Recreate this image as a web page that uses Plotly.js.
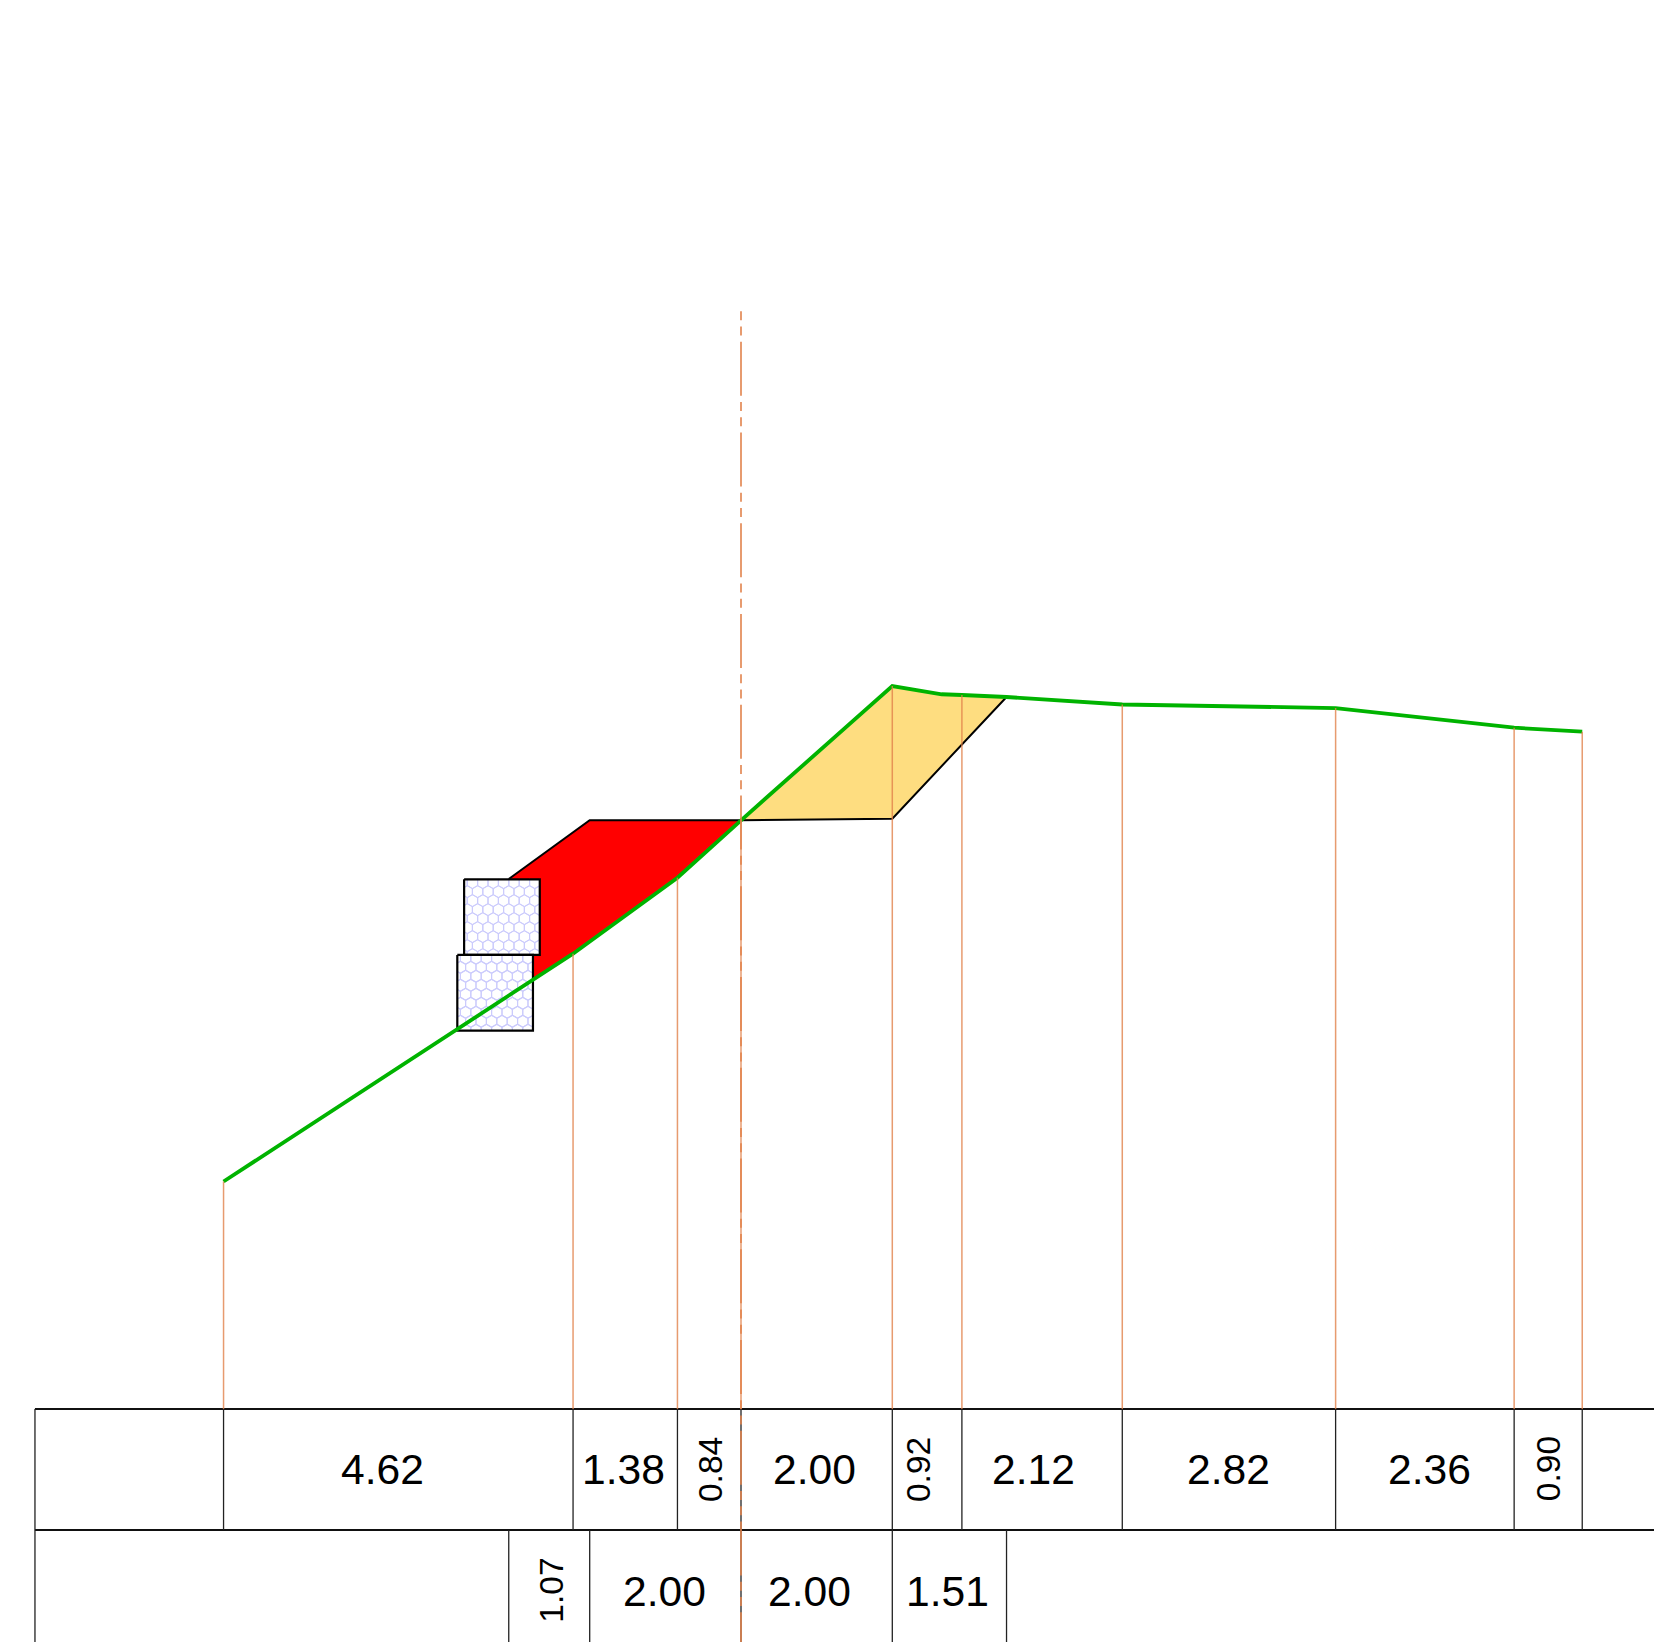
<!DOCTYPE html>
<html>
<head>
<meta charset="utf-8">
<script src="https://cdn.plot.ly/plotly-3.0.1.min.js"></script>
<style>html,body{margin:0;padding:0;background:#fff}#chart{width:1654px;height:1642px}</style>
</head>
<body>
<div id="chart"></div>
<script>
// Offsets (m) from the centre line, elevations (m) relative to the centre point
const groundX = [-6.84, -2.22, -0.84, 0, 2.00, 2.653, 2.92, 3.51, 5.04, 7.86, 10.22, 11.12];
const groundY = [-4.775, -1.763, -0.759, 0, 1.775, 1.666, 1.656, 1.630, 1.531, 1.484, 1.224, 1.171];
const fillX = [0, -2.00, -3.07, -3.07, -2.22, -0.84, 0];
const fillY = [0, 0, -0.776, -2.317, -1.763, -0.759, 0];
const cutX = [0, 2.00, 2.653, 3.51, 2.00, 0];
const cutY = [0, 1.775, 1.666, 1.630, 0.021, 0];
const fillEdgeX = [0, -2.00, -3.07];
const fillEdgeY = [0, 0, -0.776];
const cutEdgeX = [0, 2.00, 3.51];
const cutEdgeY = [0, 0.021, 1.630];
const box1X = [-3.66, -2.66, -2.66, -3.66, -3.66];
const box1Y = [-0.78, -0.78, -1.78, -1.78, -0.78];
const box2X = [-3.75, -2.75, -2.75, -3.75, -3.75];
const box2Y = [-1.78, -1.78, -2.78, -2.78, -1.78];
const stationX = [-6.84, -2.22, -0.84, 0, 2.00, 2.92, 5.04, 7.86, 10.22, 11.12];
const stationTopY = [-4.775, -1.763, -0.759, 0, 1.775, 1.656, 1.531, 1.484, 1.224, 1.171];
const row2X = [-3.07, -2.00, 0, 2.00, 3.51];
const row1Labels = ['4.62', '1.38', '0.84', '2.00', '0.92', '2.12', '2.82', '2.36', '0.90'];
const row1LabelX = [-4.735, -1.556, -0.412, 0.97, 2.338, 3.86, 6.45, 9.105, 10.668];
const row1Angle = [0, 0, -90, 0, -90, 0, 0, 0, -90];
const row2Labels = ['1.07', '2.00', '2.00', '1.51'];
const row2LabelX = [-2.51, -1.005, 0.90, 2.735];
const row2Angle = [-90, 0, 0, 0];

// Page scale and table geometry
const K = 75.65, W = 1654, H = 1642, ORIGIN_X = 741, ORIGIN_Y = 820.3;
const xRange = [-ORIGIN_X / K, (W - ORIGIN_X) / K];
const yRange = [(ORIGIN_Y - H) / K, ORIGIN_Y / K];
const tableTop = -7.782, tableMid = -9.381, tableBottom = yRange[0], tableLeft = -9.333;
const row1TextY = -8.578, row2TextY = -10.182;
const centreTop = 6.728;

const ORANGE = 'rgba(225,130,75,0.8)';
const BLACK = '#000000';
const GREEN = '#00b300';

function segments(list) {
  const x = [], y = [];
  list.forEach(s => { x.push(s[0], s[2], null); y.push(s[1], s[3], null); });
  return {x, y};
}
function line(seg, color, width, dash) {
  return {type: 'scatter', mode: 'lines', x: seg.x, y: seg.y, hoverinfo: 'skip',
    line: {color, width, dash: dash || 'solid', simplify: false}};
}
function poly(x, y, color) {
  return {type: 'scatter', mode: 'lines', x, y, fill: 'toself', fillcolor: color,
    line: {width: 0, color}, hoverinfo: 'skip'};
}
// Texture of the gabion boxes: a pointy-top hexagon mesh clipped to the box
function clip(x0, y0, x1, y1, bx0, bx1, by0, by1) {
  let t0 = 0, t1 = 1;
  const dx = x1 - x0, dy = y1 - y0;
  const tests = [[-dx, x0 - bx0], [dx, bx1 - x0], [-dy, y0 - by0], [dy, by1 - y0]];
  for (const [p, q] of tests) {
    if (p === 0) { if (q < 0) return null; continue; }
    const r = q / p;
    if (p < 0) { if (r > t1) return null; if (r > t0) t0 = r; }
    else { if (r < t0) return null; if (r < t1) t1 = r; }
  }
  return [x0 + t0 * dx, y0 + t0 * dy, x0 + t1 * dx, y0 + t1 * dy];
}
function hexMesh(bx, by) {
  const left = Math.min(...bx), right = Math.max(...bx), bot = Math.min(...by), top = Math.max(...by);
  const s = 6 / K, w = Math.sqrt(3) * s, rowH = 1.5 * s;
  const segs = [];
  for (let r = -1; r < 14; r++) {
    const cy = top - 3.3 / K - r * rowH;
    const off = (r % 2 === 0) ? 0 : w / 2;
    for (let c = -2; c < 11; c++) {
      const cx = left + 8.3 / K + off + c * w;
      const v = [];
      for (let i = 0; i < 6; i++) {
        const a = Math.PI / 2 + i * Math.PI / 3;
        v.push([cx + s * Math.cos(a), cy + s * Math.sin(a)]);
      }
      for (let i = 0; i < 6; i++) {
        const p = v[i], q = v[(i + 1) % 6];
        const cl = clip(p[0], p[1], q[0], q[1], left, right, bot, top);
        if (cl) segs.push(cl);
      }
    }
  }
  return segments(segs);
}

const tableSegs = [
  [tableLeft, tableTop, xRange[1], tableTop],
  [tableLeft, tableMid, xRange[1], tableMid]
];
const tableV = [[tableLeft, tableTop, tableLeft, tableBottom]];
stationX.forEach(x => tableV.push([x, tableTop, x, tableMid]));
row2X.forEach(x => tableV.push([x, tableMid, x, tableBottom]));

const stationSegs = stationX.map((x, i) => [x, stationTopY[i], x, tableTop]);

const traces = [
  poly(fillX, fillY, '#ff0000'),
  poly(cutX, cutY, '#fedd80'),
  line({x: fillEdgeX, y: fillEdgeY}, BLACK, 2),
  line({x: cutEdgeX, y: cutEdgeY}, BLACK, 2),
  poly(box1X, box1Y, '#ffffff'),
  line(hexMesh(box1X, box1Y), '#cbcbfc', 1.1),
  line({x: box1X, y: box1Y}, BLACK, 2.2),
  poly(box2X, box2Y, '#ffffff'),
  line(hexMesh(box2X, box2Y), '#cbcbfc', 1.1),
  line({x: box2X, y: box2Y}, BLACK, 2.2),
  line(segments(tableSegs), '#111111', 2),
  line(segments(tableV), '#222222', 1.3),
  line({x: groundX, y: groundY}, GREEN, 3.8),
  line(segments(stationSegs), ORANGE, 1.5),
  line({x: [0, 0], y: [centreTop, tableBottom]}, ORANGE, 2, '9px,6.25px,9px,6.25px,54px,6.25px')
];

function label(text, x, y, angle) {
  return {text, x, y, xref: 'x', yref: 'y', showarrow: false, textangle: angle,
    xanchor: 'center', yanchor: 'middle',
    font: {family: '"Liberation Sans", Arial, sans-serif', color: '#000000', size: angle ? 33.6 : 42.6}};
}
const annotations = [
  ...row1Labels.map((t, i) => label(t, row1LabelX[i], row1TextY, row1Angle[i])),
  ...row2Labels.map((t, i) => label(t, row2LabelX[i], row2TextY, row2Angle[i]))
];

const axis = {visible: false, showgrid: false, zeroline: false, fixedrange: true};
Plotly.newPlot('chart', traces, {
  width: W, height: H, autosize: false, showlegend: false,
  margin: {l: 0, r: 0, t: 0, b: 0, pad: 0},
  paper_bgcolor: '#ffffff', plot_bgcolor: '#ffffff',
  xaxis: Object.assign({range: xRange}, axis),
  yaxis: Object.assign({range: yRange}, axis),
  annotations
}, {displayModeBar: false, staticPlot: true});
</script>
</body>
</html>
